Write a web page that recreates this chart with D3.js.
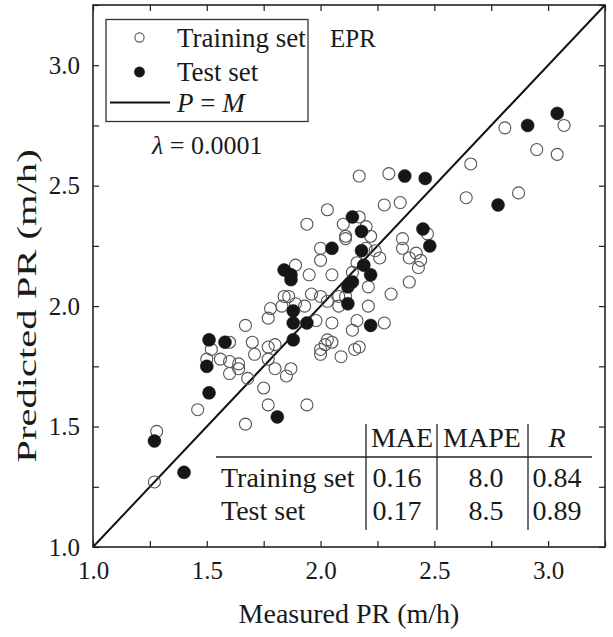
<!DOCTYPE html>
<html>
<head>
<meta charset="utf-8">
<script src="https://cdn.jsdelivr.net/npm/d3@7"></script>
<style>
  html, body { margin: 0; padding: 0; background: #fff; }
  svg text { font-family: "Liberation Serif", "Times New Roman", serif; fill: #1a1a1a; }
</style>
</head>
<body>
<svg id="chart" width="613" height="637"></svg>
<script>
// ---- data (measured PR, predicted PR) in m/h ----
const trainingSet = [
  [1.28,1.48],[1.27,1.27],[1.46,1.57],[1.67,1.51],[1.75,1.66],[1.77,1.59],[1.94,1.59],
  [1.67,1.92],[1.60,1.85],[1.52,1.82],[1.50,1.78],[1.56,1.78],[1.60,1.77],[1.64,1.76],
  [1.60,1.72],[1.64,1.74],[1.68,1.70],[1.70,1.85],[1.71,1.80],[1.77,1.83],[1.80,1.84],
  [1.77,1.78],[1.80,1.74],[1.85,1.71],[1.87,1.74],[1.77,1.95],[1.78,1.99],[1.83,2.00],
  [1.84,2.04],[1.86,2.04],[1.89,2.01],[1.93,2.00],[1.96,2.05],[1.98,1.94],[2.00,2.04],
  [2.03,2.02],[2.05,1.93],[2.08,2.04],[2.11,2.04],[2.08,2.00],[2.03,1.86],[2.05,1.85],
  [2.02,1.84],[2.00,1.82],[2.00,1.80],[2.09,1.79],[2.15,1.82],[2.17,1.83],[2.16,1.94],
  [2.14,1.90],[2.21,2.00],[2.21,2.08],[2.28,1.93],[2.31,2.05],[2.39,2.10],[1.89,2.17],
  [1.95,2.13],[2.05,2.13],[2.16,2.18],[2.14,2.14],[2.00,2.24],[2.00,2.19],[2.20,2.24],
  [2.24,2.23],[2.26,2.20],[1.94,2.34],[2.03,2.40],[2.10,2.34],[2.11,2.29],[2.11,2.28],
  [2.17,2.37],[2.20,2.33],[2.22,2.29],[2.17,2.54],[2.30,2.55],[2.28,2.42],[2.35,2.43],
  [2.36,2.28],[2.36,2.24],[2.39,2.20],[2.42,2.22],[2.44,2.19],[2.43,2.16],[2.47,2.30],
  [2.64,2.45],[2.66,2.59],[2.87,2.47],[2.81,2.74],[2.95,2.65],[3.04,2.63],[3.07,2.75]
];
const testSet = [
  [1.27,1.44],[1.40,1.31],[1.51,1.86],[1.58,1.85],[1.50,1.75],[1.51,1.64],[1.81,1.54],
  [1.88,1.93],[1.88,1.98],[1.94,1.93],[1.88,1.86],[1.84,2.15],[1.87,2.13],[1.87,2.11],
  [2.14,2.10],[2.12,2.08],[2.12,2.01],[2.22,1.92],[2.19,2.17],[2.22,2.13],[2.05,2.24],
  [2.18,2.23],[2.14,2.37],[2.18,2.31],[2.37,2.54],[2.46,2.53],[2.45,2.32],[2.48,2.25],
  [2.78,2.42],[2.91,2.75],[3.04,2.80]
];
const axisDomain = [1.0, 3.25];
const tickValues = [1.0,1.25,1.5,1.75,2.0,2.25,2.5,2.75,3.0,3.25];
const labelledTicks = [1.0,1.5,2.0,2.5,3.0];
const xTitle = "Measured PR (m/h)";
const yTitle = "Predicted PR (m/h)";
const modelName = "EPR";
const lambdaText = "0.0001";
const legendLabels = ["Training set", "Test set"];
const tableHeaders = ["MAE", "MAPE", "R"];
const tableRows = ["Training set", "Test set"];
const tableMAE = ["0.16", "0.17"];
const tableMAPE = ["8.0", "8.5"];
const tableR = ["0.84", "0.89"];

// ---- layout ----
const svg = d3.select("#chart");
const L = 93, R = 605, T = 5, B = 547;
const x = d3.scaleLinear().domain(axisDomain).range([L, R]);
const y = d3.scaleLinear().domain(axisDomain).range([B, T]);
const fmt = d => labelledTicks.some(v => Math.abs(v - d) < 1e-9) ? d3.format(".1f")(d) : "";

function styleAxis(g) {
  g.select(".domain").remove();
  g.selectAll(".tick line").attr("stroke", "#222").attr("stroke-width", 1.2);
  g.selectAll(".tick text").style("font-size", "25px").attr("fill", "#1a1a1a");
}
svg.append("g").attr("transform", `translate(0,${B})`)
  .call(d3.axisBottom(x).tickValues(tickValues).tickSize(-6).tickPadding(14).tickFormat(fmt))
  .call(styleAxis);
svg.append("g").attr("transform", `translate(${L},0)`)
  .call(d3.axisLeft(y).tickValues(tickValues).tickSize(-6).tickPadding(13).tickFormat(fmt))
  .call(styleAxis);
svg.append("g").attr("transform", `translate(0,${T})`)
  .call(d3.axisTop(x).tickValues(tickValues).tickSize(-6).tickFormat(""))
  .call(styleAxis);
svg.append("g").attr("transform", `translate(${R},0)`)
  .call(d3.axisRight(y).tickValues(tickValues).tickSize(-6).tickFormat(""))
  .call(styleAxis);

// frame
svg.append("rect").attr("x", L).attr("y", T).attr("width", R - L).attr("height", B - T)
  .attr("fill", "none").attr("stroke", "#222").attr("stroke-width", 1.6);

// P = M line
svg.append("defs").append("clipPath").attr("id", "clip")
  .append("rect").attr("x", L).attr("y", T).attr("width", R - L).attr("height", B - T);
svg.append("line").attr("clip-path", "url(#clip)")
  .attr("x1", x(axisDomain[0])).attr("y1", y(axisDomain[0]))
  .attr("x2", x(axisDomain[1])).attr("y2", y(axisDomain[1]))
  .attr("stroke", "#111").attr("stroke-width", 2);

// points
svg.append("g").selectAll("circle").data(trainingSet).join("circle")
  .attr("cx", d => x(d[0])).attr("cy", d => y(d[1])).attr("r", 6)
  .attr("fill", "#fff").attr("fill-opacity", 0.0).attr("stroke", "#555").attr("stroke-width", 1.1);
svg.append("g").selectAll("circle").data(testSet).join("circle")
  .attr("cx", d => x(d[0])).attr("cy", d => y(d[1])).attr("r", 6.5)
  .attr("fill", "#161616").attr("stroke", "#161616").attr("stroke-width", 0.5);

// axis titles
svg.append("text").attr("x", (L + R) / 2).attr("y", 623).attr("text-anchor", "middle")
  .style("font-size", "28px").text(xTitle);
svg.append("text").attr("transform", `translate(36,306) rotate(-90) scale(1.45,1)`)
  .attr("text-anchor", "middle").style("font-size", "28px").text(yTitle);

// legend
const lg = svg.append("g");
lg.append("rect").attr("x", 106).attr("y", 19.5).attr("width", 202).attr("height", 102)
  .attr("fill", "#fff").attr("stroke", "#333").attr("stroke-width", 1.3);
lg.append("circle").attr("cx", 139.5).attr("cy", 37.5).attr("r", 4.6)
  .attr("fill", "#fff").attr("stroke", "#555").attr("stroke-width", 1.1);
lg.append("circle").attr("cx", 139.5).attr("cy", 72).attr("r", 5.4).attr("fill", "#161616");
lg.append("line").attr("x1", 110).attr("x2", 170).attr("y1", 102.5).attr("y2", 102.5)
  .attr("stroke", "#111").attr("stroke-width", 1.8);
lg.append("text").attr("x", 177).attr("y", 47).style("font-size", "27px").text(legendLabels[0]);
lg.append("text").attr("x", 177).attr("y", 81).style("font-size", "27px").text(legendLabels[1]);
const pm = lg.append("text").attr("x", 177).attr("y", 112).style("font-size", "27px");
pm.append("tspan").style("font-style", "italic").text("P");
pm.append("tspan").text(" = ");
pm.append("tspan").style("font-style", "italic").text("M");

svg.append("text").attr("x", 330).attr("y", 47).style("font-size", "25px").text(modelName);
const lam = svg.append("text").attr("x", 152).attr("y", 154).style("font-size", "26px");
lam.append("tspan").style("font-style", "italic").text("λ");
lam.append("tspan").text(" = " + lambdaText);

// stats table
const tb = svg.append("g");
tb.append("line").attr("x1", 216).attr("x2", 592).attr("y1", 457).attr("y2", 457)
  .attr("stroke", "#222").attr("stroke-width", 1.3);
[366, 437, 528].forEach(vx => tb.append("line").attr("x1", vx).attr("x2", vx)
  .attr("y1", 424).attr("y2", 530).attr("stroke", "#222").attr("stroke-width", 1.3));
const colCenters = [402, 482, 557];
tableHeaders.forEach((h, i) => tb.append("text").attr("x", colCenters[i]).attr("y", 447)
  .attr("text-anchor", "middle").style("font-size", "28px")
  .style("font-style", h === "R" ? "italic" : "normal").text(h));
const rowY = [487, 520];
tableRows.forEach((r, i) => {
  tb.append("text").attr("x", 221).attr("y", rowY[i]).style("font-size", "28px").text(r);
  tb.append("text").attr("x", 397).attr("y", rowY[i]).attr("text-anchor", "middle").style("font-size", "28px").text(tableMAE[i]);
  tb.append("text").attr("x", 486).attr("y", rowY[i]).attr("text-anchor", "middle").style("font-size", "28px").text(tableMAPE[i]);
  tb.append("text").attr("x", 557).attr("y", rowY[i]).attr("text-anchor", "middle").style("font-size", "28px").text(tableR[i]);
});
</script>
</body>
</html>
